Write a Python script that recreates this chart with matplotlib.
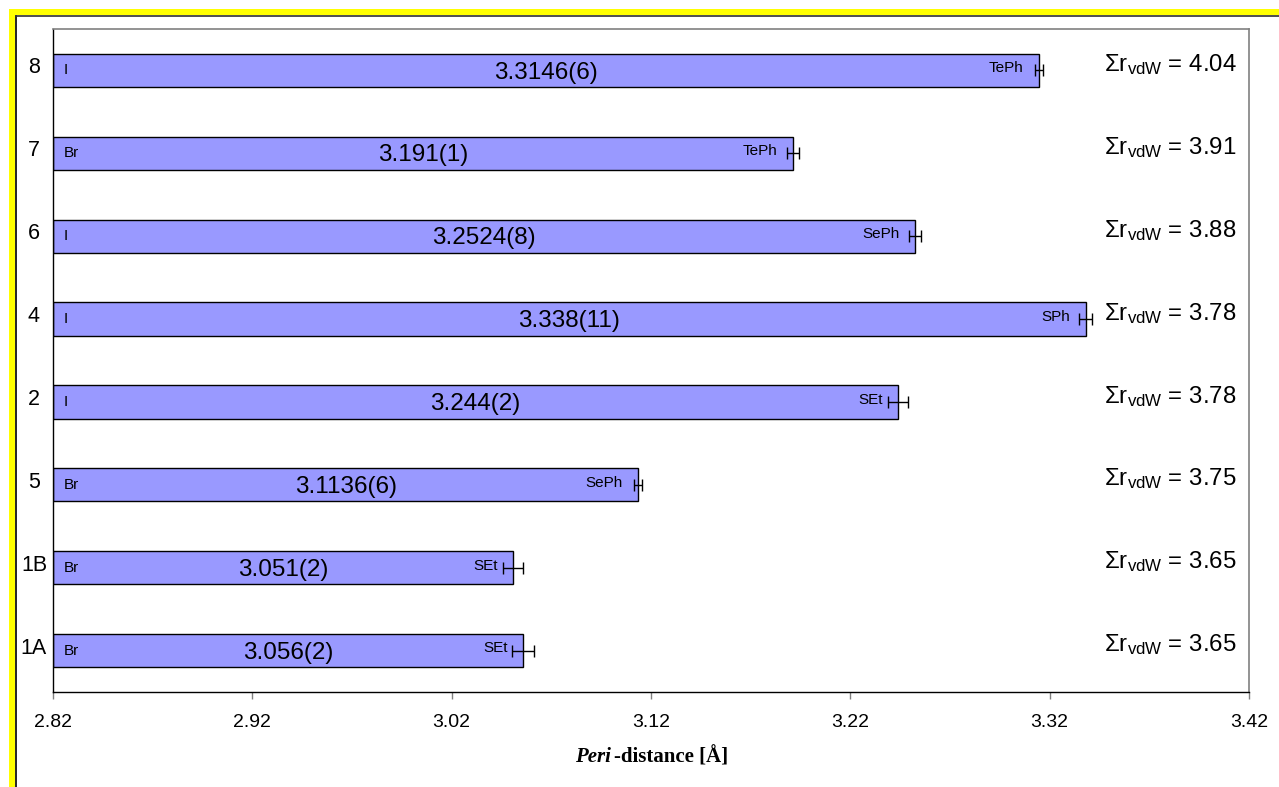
import matplotlib
matplotlib.use('Agg')
import matplotlib.pyplot as plt
from matplotlib.patches import Rectangle
from matplotlib.lines import Line2D
import matplotlib.transforms as mtransforms

# Data, listed bottom to top
compounds = ['1A', '1B', '5', '2', '4', '6', '7', '8']
distances = [3.056, 3.051, 3.1136, 3.244, 3.338, 3.2524, 3.191, 3.3146]
dist_labels = ['3.056(2)', '3.051(2)', '3.1136(6)', '3.244(2)', '3.338(11)',
               '3.2524(8)', '3.191(1)', '3.3146(6)']
errors = [0.0055, 0.005, 0.002, 0.005, 0.0033, 0.003, 0.003, 0.002]
halogens = ['Br', 'Br', 'Br', 'I', 'I', 'I', 'Br', 'I']
chalcogens = ['SEt', 'SEt', 'SePh', 'SEt', 'SPh', 'SePh', 'TePh', 'TePh']
vdw_sums = ['3.65', '3.65', '3.75', '3.78', '3.78', '3.88', '3.91', '4.04']
x_ticks = [2.82, 2.92, 3.02, 3.12, 3.22, 3.32, 3.42]

XMIN, XMAX = 2.82, 3.42
W, H = 1279, 787

plt.rcParams['font.family'] = ['Liberation Sans', 'DejaVu Sans']
plt.rcParams['mathtext.fontset'] = 'custom'
plt.rcParams['mathtext.rm'] = 'Liberation Sans'
plt.rcParams['mathtext.it'] = 'Liberation Sans:italic'
plt.rcParams['mathtext.bf'] = 'Liberation Sans:bold'

fig = plt.figure(figsize=(W / 100, H / 100), dpi=100)
fig.patch.set_facecolor('white')

# Yellow frame on the top and left edges, with a dark inner line
fig.patches.append(Rectangle((9 / W, 0), 6 / W, 1 - 9 / H, transform=fig.transFigure,
                             facecolor='#FFFF00', edgecolor='none', zorder=0))
fig.patches.append(Rectangle((9 / W, 1 - 15 / H), 1, 6 / H, transform=fig.transFigure,
                             facecolor='#FFFF00', edgecolor='none', zorder=0))
fig.lines.append(Line2D([15.5 / W, 15.5 / W], [0, 1 - 15.5 / H], transform=fig.transFigure,
                        color='black', lw=1.2))
fig.lines.append(Line2D([15.5 / W, 1], [1 - 15.5 / H, 1 - 15.5 / H], transform=fig.transFigure,
                        color='#303030', lw=1.2))

ax = fig.add_axes([53 / W, 1 - 692 / H, (1249 - 53) / W, (692 - 29) / H])

ypos = list(range(len(compounds)))
widths = [d - XMIN for d in distances]
ax.barh(ypos, widths, left=XMIN, height=0.4, color='#9999FF', edgecolor='black',
        linewidth=1.0, zorder=2)
ax.errorbar(distances, ypos, xerr=errors, fmt='none', ecolor='black', elinewidth=1.0,
            capsize=4, capthick=1.0, zorder=3)

for i in ypos:
    ax.annotate(halogens[i], (XMIN, i), xytext=(8, 0), textcoords='offset points',
                ha='left', va='center', fontsize=11)
    ax.annotate(chalcogens[i], (distances[i], i), xytext=(-11, 1.5), textcoords='offset points',
                ha='right', va='center', fontsize=11)
    ax.annotate(dist_labels[i], ((XMIN + distances[i]) / 2, i), xytext=(0, -1.5),
                textcoords='offset points', ha='center', va='center', fontsize=17.5)

# Sum of van der Waals radii on the right
trans = mtransforms.blended_transform_factory(ax.transAxes, ax.transData)
for i in ypos:
    ax.text((1104 - 53) / (1249 - 53), i + 0.07,
            r'$\Sigma\mathrm{r}_{\mathrm{vdW}}$ = ' + vdw_sums[i],
            transform=trans, ha='left', va='center', fontsize=17.3)

# Compound labels on the left
for i in ypos:
    ax.text(-19 / (1249 - 53), i + 0.03, compounds[i], transform=trans, ha='center',
            va='center', fontsize=15.5)

ax.set_xlim(XMIN, XMAX)
ax.set_ylim(-0.5, len(compounds) - 0.5)
ax.set_xticks(x_ticks)
ax.set_xticklabels(['%.2f' % t for t in x_ticks], fontsize=14)
ax.set_yticks([])
ax.tick_params(axis='x', direction='out', length=5, width=1, color='#808080', pad=11)

for side in ['left', 'bottom']:
    ax.spines[side].set_color('black')
    ax.spines[side].set_linewidth(1.0)
for side in ['top', 'right']:
    ax.spines[side].set_color('#808080')
    ax.spines[side].set_linewidth(1.2)

# Axis title: bold italic "Peri" followed by bold text
fig.text(611 / W, 1 - 757 / H, 'Peri', ha='right', va='center', fontsize=15,
         family='Liberation Serif', weight='bold', style='italic')
fig.text(614 / W, 1 - 757 / H, '-distance [Å]', ha='left', va='center', fontsize=15,
         family='Liberation Serif', weight='bold')

fig.savefig('out.png', dpi=100)
